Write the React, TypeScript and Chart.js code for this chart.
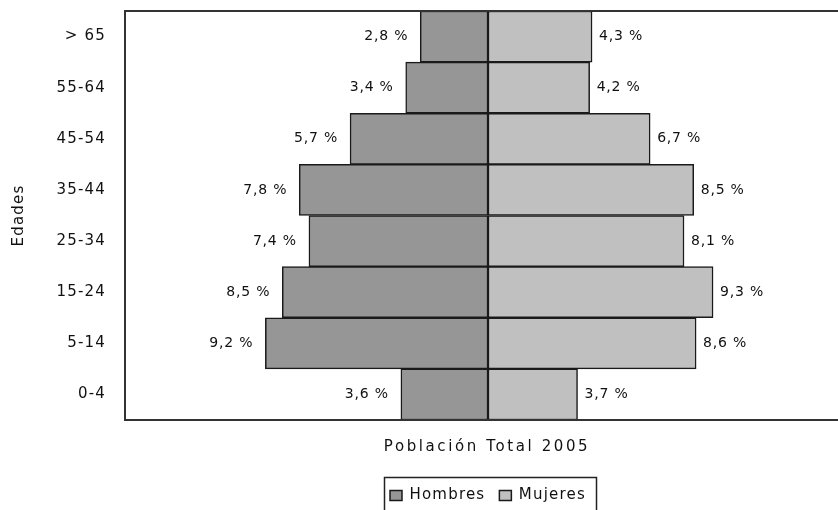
import { useEffect, useRef } from "react";
import { Chart, registerables } from "chart.js";

Chart.register(...registerables);

// Age groups, top to bottom
const ageGroups = ["> 65", "55-64", "45-54", "35-44", "25-34", "15-24", "5-14", "0-4"];
// Share of total population (%)
const hombres = [2.8, 3.4, 5.7, 7.8, 7.4, 8.5, 9.2, 3.6];
const mujeres = [4.3, 4.2, 6.7, 8.5, 8.1, 9.3, 8.6, 3.7];
const seriesNames = ["Hombres", "Mujeres"];
const seriesColors = ["#969696", "#c0c0c0"];
const valueRange = [-15, 15];
const xTitle = "Población Total 2005";
const yTitle = "Edades";

const FONT = '"DejaVu Sans", Verdana, sans-serif';
const INK = "#111";

const fmt = (v: number) => v.toFixed(1).replace(".", ",") + " %";

const spacingPlugin = {
  id: "spacing",
  beforeLayout(chart: any) {
    chart.ctx.letterSpacing = "1.2px";
  },
  beforeDraw(chart: any) {
    const { ctx, width, height } = chart;
    ctx.save();
    ctx.fillStyle = "#ffffff";
    ctx.fillRect(0, 0, width, height);
    ctx.restore();
    ctx.letterSpacing = "1.2px";
  },
};

const overlayPlugin = {
  id: "overlay",
  afterDatasetsDraw(chart: any) {
    const { ctx, chartArea } = chart;
    ctx.save();
    // value labels at the end of each bar
    ctx.font = `14px ${FONT}`;
    ctx.fillStyle = INK;
    ctx.textBaseline = "middle";
    ctx.letterSpacing = "0.8px";
    chart.data.datasets.forEach((ds: any, di: number) => {
      const meta = chart.getDatasetMeta(di);
      meta.data.forEach((bar: any, i: number) => {
        const raw = ds.data[i] as number;
        const text = fmt(Math.abs(raw));
        if (raw < 0) {
          ctx.textAlign = "right";
          ctx.fillText(text, bar.x - 12, bar.y);
        } else {
          ctx.textAlign = "left";
          ctx.fillText(text, bar.x + 7, bar.y);
        }
      });
    });
    // plot frame
    ctx.strokeStyle = "#333";
    ctx.lineWidth = 2;
    ctx.strokeRect(
      chartArea.left,
      chartArea.top,
      chartArea.right - chartArea.left,
      chartArea.bottom - chartArea.top
    );
    // horizontal axis title
    ctx.font = `15px ${FONT}`;
    ctx.letterSpacing = "2.6px";
    ctx.textAlign = "center";
    ctx.fillText(xTitle, (chartArea.left + chartArea.right) / 2 - 1, chartArea.bottom + 27);
    ctx.restore();
  },
  afterDraw(chart: any) {
    const boxes = chart.legend?.legendHitBoxes;
    if (!boxes || !boxes.length) return;
    const { ctx } = chart;
    const l = Math.min(...boxes.map((b: any) => b.left)) - 6;
    const r = Math.max(...boxes.map((b: any) => b.left + b.width)) + 10;
    const t = boxes[0].top - 11;
    ctx.save();
    ctx.strokeStyle = "#222";
    ctx.lineWidth = 1.5;
    ctx.strokeRect(Math.round(l) + 0.5, Math.round(t) + 0.5, Math.round(r - l), 60);
    ctx.restore();
  },
};

export default function App() {
  const ref = useRef<HTMLCanvasElement | null>(null);

  useEffect(() => {
    if (!ref.current) return;
    const chart = new Chart(ref.current, {
      type: "bar",
      data: {
        labels: ageGroups,
        datasets: [
          {
            label: seriesNames[0],
            data: hombres.map((v) => -v),
            backgroundColor: seriesColors[0],
            borderColor: "#1a1a1a",
            borderWidth: 1.5,
            borderSkipped: false,
            barPercentage: 1,
            categoryPercentage: 1,
          },
          {
            label: seriesNames[1],
            data: mujeres,
            backgroundColor: seriesColors[1],
            borderColor: "#1a1a1a",
            borderWidth: 1.5,
            borderSkipped: false,
            barPercentage: 1,
            categoryPercentage: 1,
          },
        ],
      },
      options: {
        indexAxis: "y",
        animation: false,
        responsive: false,
        devicePixelRatio: 1,
        layout: { padding: { top: 11, right: 121, bottom: 7, left: 0 } },
        scales: {
          x: {
            stacked: true,
            min: valueRange[0],
            max: valueRange[1],
            ticks: { display: false },
            grid: { display: false, drawTicks: false },
            border: { display: false },
            title: { display: false },
            afterFit: (s: any) => {
              s.height = 54;
            },
          },
          y: {
            stacked: true,
            ticks: {
              color: INK,
              padding: 19,
              font: { family: FONT, size: 15 },
            },
            grid: { display: false, drawTicks: false },
            border: { display: false },
            title: {
              display: true,
              text: yTitle,
              color: INK,
              font: { family: FONT, size: 15 },
              padding: { top: 10, bottom: 0 },
            },
            afterFit: (s: any) => {
              s.width = 125;
              s.paddingTop = 0;
              s.paddingBottom = 0;
            },
          },
        },
        plugins: {
          tooltip: { enabled: false },
          legend: {
            position: "bottom",
            fullSize: false,
            labels: {
              color: INK,
              font: { family: FONT, size: 15 },
              boxWidth: 12,
              boxHeight: 10,
              padding: 14,
            },
          },
        },
      },
      plugins: [spacingPlugin, overlayPlugin],
    } as any);
    return () => chart.destroy();
  }, []);

  return (
    <div
      style={{
        position: "fixed",
        left: 0,
        top: 0,
        width: 838,
        height: 510,
        overflow: "hidden",
        background: "#fff",
      }}
    >
      <canvas ref={ref} width={972} height={520} style={{ display: "block", width: 972, height: 520 }} />
    </div>
  );
}
